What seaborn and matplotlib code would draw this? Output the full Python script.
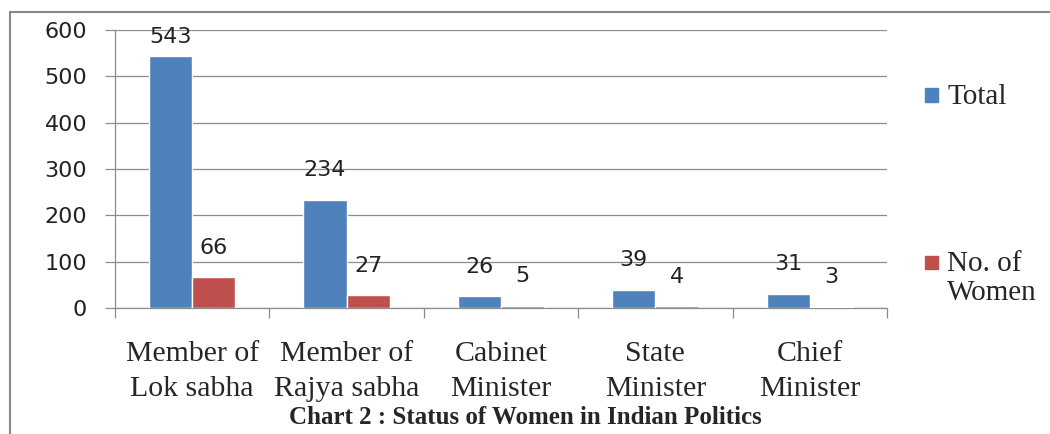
import matplotlib
matplotlib.use("Agg")
import matplotlib.pyplot as plt
import matplotlib.patches as mpatches
import numpy as np
import pandas as pd
import seaborn as sns

categories = ["Member of\nLok sabha", "Member of\nRajya sabha", "Cabinet\nMinister",
              "State\nMinister", "Chief\nMinister"]
total = [543, 234, 26, 39, 31]
women = [66, 27, 5, 4, 3]
series = ["Total", "No. of\nWomen"]
y_ticks = [0, 100, 200, 300, 400, 500, 600]

colors = ["#4F81BD", "#C0504D"]
grid_color = "#8C8C8C"
serif = "Liberation Serif"
sans = "DejaVu Sans"


def main():
    sns.set_style("white")
    df = pd.DataFrame({
        "category": categories * 2,
        "value": total + women,
        "series": [series[0]] * len(categories) + [series[1]] * len(categories),
    })

    fig = plt.figure(figsize=(10.5, 4.34), dpi=100)
    ax = fig.add_axes([0.1095, 0.2903, 0.7352, 0.6406])

    sns.barplot(data=df, x="category", y="value", hue="series", palette=colors,
                width=0.56, saturation=1, ax=ax, legend=False, zorder=3)

    ax.set_ylim(0, 600)
    ax.set_xlim(-0.5, len(categories) - 0.5)
    ax.set_yticks(y_ticks)
    ax.set_yticklabels([str(t) for t in y_ticks], fontsize=16, family=sans, color="#222222")
    ax.yaxis.grid(True, color=grid_color, linewidth=0.9, zorder=0)
    ax.set_axisbelow(True)

    # category separators as minor ticks
    ax.set_xticks(np.arange(len(categories)))
    ax.set_xticklabels(categories, fontsize=21.5, family=serif, linespacing=1.45)
    ax.set_xticks(np.arange(-0.5, len(categories)), minor=True)
    ax.tick_params(axis="x", which="major", bottom=True, length=0, pad=24)
    ax.tick_params(axis="x", which="minor", bottom=True, length=7, color=grid_color, width=0.9,
                   direction="out")
    ax.tick_params(axis="y", length=7, color=grid_color, width=0.9, pad=13, direction="out", left=True)
    ax.set_xlabel("")
    ax.set_ylabel("")

    for side in ["top", "right"]:
        ax.spines[side].set_visible(False)
    for side in ["left", "bottom"]:
        ax.spines[side].set_color(grid_color)
        ax.spines[side].set_linewidth(0.9)

    # data labels, kept inside the plot area like excel does
    for container in ax.containers:
        for p in container:
            h = p.get_height()
            ax.annotate(f"{h:.0f}", xy=(p.get_x() + p.get_width() / 2, min(h, 522)),
                        xytext=(0, 14), textcoords="offset points",
                        ha="center", va="bottom", fontsize=16, family=sans, color="#222222",
                        annotation_clip=False)

    # legend laid out like the excel one: square aligned with first line of text
    legend_y = [95, 262]
    for c, label, y in zip(colors, series, legend_y):
        fig.add_artist(mpatches.Rectangle((925 / 1050, 1 - (y + 6.5) / 434), 13 / 1050, 13 / 434,
                                          transform=fig.transFigure, color=c))
        fig.text(947 / 1050, 1 - (y - 11) / 434, label, ha="left", va="top",
                 fontsize=21, family=serif, linespacing=1.15)

    fig.text(0.5, 1 - 417 / 434, "Chart 2 : Status of Women in Indian Politics", ha="center",
             va="center", fontsize=18, fontweight="bold", family=serif)

    # outer chart frame
    fig.add_artist(plt.Line2D([10 / 1050, 10 / 1050], [0, 1 - 12 / 434],
                              transform=fig.transFigure, color="#888888", linewidth=1.5))
    fig.add_artist(plt.Line2D([10 / 1050, 1], [1 - 12 / 434, 1 - 12 / 434],
                              transform=fig.transFigure, color="#888888", linewidth=1.5))

    fig.savefig("out.png", dpi=100)


if __name__ == "__main__":
    main()
